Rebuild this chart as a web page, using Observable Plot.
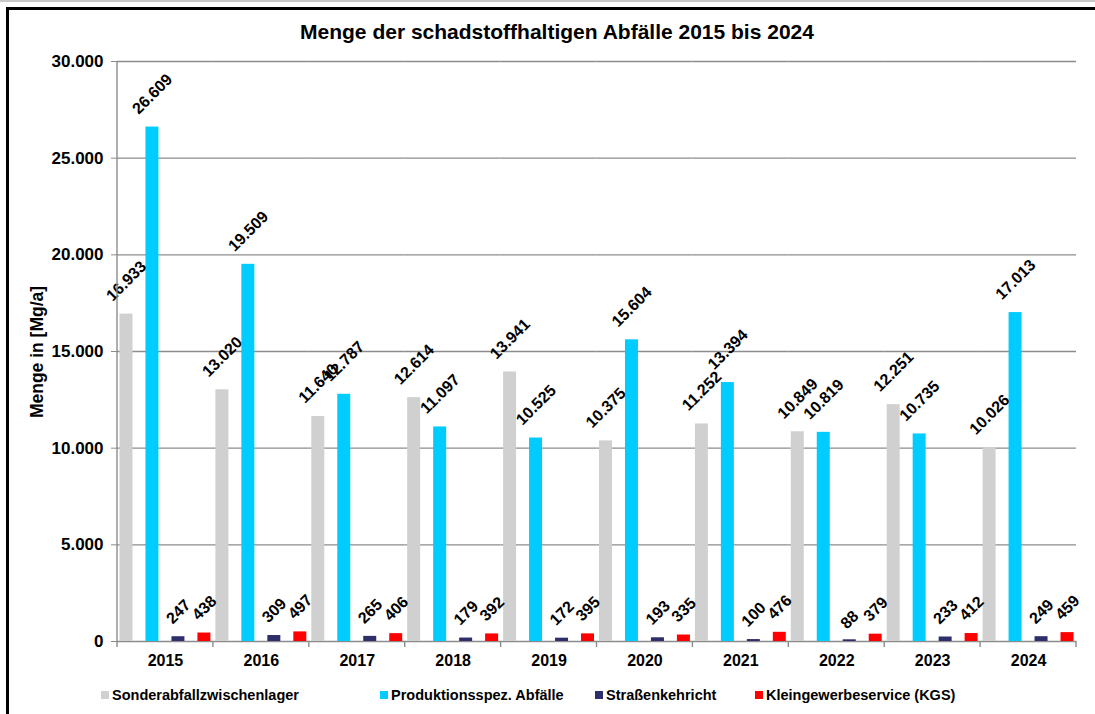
<!DOCTYPE html>
<html>
<head>
<meta charset="utf-8">
<script src="https://cdn.jsdelivr.net/npm/d3@7"></script>
<script src="https://cdn.jsdelivr.net/npm/@observablehq/plot@0.6"></script>
<style>
  html, body { margin: 0; padding: 0; background: #fff; }
  body { width: 1095px; height: 714px; position: relative; overflow: hidden; font-family: "Liberation Sans", Arial, sans-serif; font-weight: bold; color: #000; }
  #chart { position: absolute; left: 0; top: 0; }
  .abs { position: absolute; }
  #title { left: 0; width: 1114px; top: 20px; text-align: center; font-size: 21px; }
  #ylabel { left: 37px; top: 352px; font-size: 17.5px; transform: translate(-50%, -50%) rotate(-90deg); white-space: nowrap; }
  .legend-item { position: absolute; top: 687px; font-size: 14.5px; white-space: nowrap; display: flex; align-items: center; }
  .legend-item span.sw { display: inline-block; width: 8px; height: 8px; margin-right: 3px; }
</style>
</head>
<body>
<div class="abs" style="left:0;top:0;width:1095px;height:2px;background:#c8c8c8"></div>
<div class="abs" style="left:6px;top:7px;width:1089px;height:3px;background:#000"></div>
<div class="abs" style="left:6px;top:7px;width:3px;height:707px;background:#000"></div>
<div id="chart"></div>
<div id="title" class="abs"></div>
<div id="ylabel" class="abs"></div>
<div id="legend"></div>
<script>
const titleText = "Menge der schadstoffhaltigen Abfälle 2015 bis 2024";
const yLabelText = "Menge in [Mg/a]";
const years = ["2015","2016","2017","2018","2019","2020","2021","2022","2023","2024"];
const seriesNames = ["Sonderabfallzwischenlager","Produktionsspez. Abfälle","Straßenkehricht","Kleingewerbeservice (KGS)"];
const sonder   = [16933, 13020, 11640, 12614, 13941, 10375, 11252, 10849, 12251, 10026];
const prod     = [26609, 19509, 12787, 11097, 10525, 15604, 13394, 10819, 10735, 17013];
const strassen = [247, 309, 265, 179, 172, 193, 100, 88, 233, 249];
const kgs      = [438, 497, 406, 392, 395, 335, 476, 379, 412, 459];
const colors   = ["#d0d0d0", "#00ccff", "#2e2e6b", "#ff0000"];
const yTicks   = [0, 5000, 10000, 15000, 20000, 25000, 30000];
const legendX  = [101, 380, 595, 755];

const seriesValues = [sonder, prod, strassen, kgs];
const data = years.flatMap((yr, i) => seriesValues.map((arr, j) => ({year: yr, series: seriesNames[j], value: arr[i]})));

const de = d3.formatLocale({decimal: ",", thousands: ".", grouping: [3], currency: ["", "€"]});
const fmt = de.format(",d");

const labelOpts = (dy) => ({fx: "year", x: "series", y: "value", text: d => fmt(d.value), rotate: -45, dy, textAnchor: "middle", fontSize: 16, fontWeight: "bold", fill: "#000"});

const chart = Plot.plot({
  width: 1095, height: 714,
  marginLeft: 117, marginRight: 19, marginTop: 61, marginBottom: 73,
  style: {fontFamily: "'Liberation Sans', Arial, sans-serif", fontWeight: "bold", background: "transparent", overflow: "visible"},
  fx: {domain: years, padding: 0, round: false, label: null},
  x: {domain: seriesNames, paddingInner: 0.5, paddingOuter: 0.096, round: false, axis: null},
  y: {domain: [0, 30000], label: null},
  color: {domain: seriesNames, range: colors},
  marks: [
    Plot.gridY(yTicks, {stroke: "#8c8c8c", strokeOpacity: 1, strokeWidth: 1.4}),
    Plot.barY(data, {fx: "year", x: "series", y: "value", fill: "series"}),
    Plot.text(data.filter(d => d.value >= 10000), labelOpts(-33)),
    Plot.text(data.filter(d => d.value >= 100 && d.value < 10000), labelOpts(-25)),
    Plot.text(data.filter(d => d.value < 100), labelOpts(-20)),
    Plot.axisY({ticks: yTicks, tickFormat: fmt, tickSize: 6, tickPadding: 8, fontSize: 17, fontWeight: "bold", stroke: "#8c8c8c", fill: "#000", label: null}),
    Plot.axisFx({anchor: "bottom", tickSize: 0, tickPadding: 13, fontSize: 16, fontWeight: "bold", label: null})
  ]
});
document.getElementById("chart").appendChild(chart);

// y axis line and category boundary ticks from the plot's scales
const fxs = chart.scale("fx");
const ys = chart.scale("y");
const svg = d3.select(chart);
const bw = fxs.bandwidth;
const y0 = ys.apply(0), yTop = ys.apply(30000);
const xLeft = fxs.apply(years[0]);
const g = svg.append("g").attr("stroke", "#8c8c8c").attr("stroke-width", 1.4);
g.append("line").attr("x1", xLeft).attr("x2", xLeft).attr("y1", yTop).attr("y2", y0);
const bounds = years.map(yr => fxs.apply(yr)).concat([fxs.apply(years[years.length - 1]) + bw]);
bounds.forEach(x => g.append("line").attr("x1", x).attr("x2", x).attr("y1", y0).attr("y2", y0 + 6));

document.getElementById("title").textContent = titleText;
document.getElementById("ylabel").textContent = yLabelText;
const leg = document.getElementById("legend");
seriesNames.forEach((name, i) => {
  const item = document.createElement("div");
  item.className = "legend-item";
  item.style.left = legendX[i] + "px";
  const sw = document.createElement("span");
  sw.className = "sw";
  sw.style.background = colors[i];
  item.appendChild(sw);
  item.appendChild(document.createTextNode(name));
  leg.appendChild(item);
});
</script>
</body>
</html>
